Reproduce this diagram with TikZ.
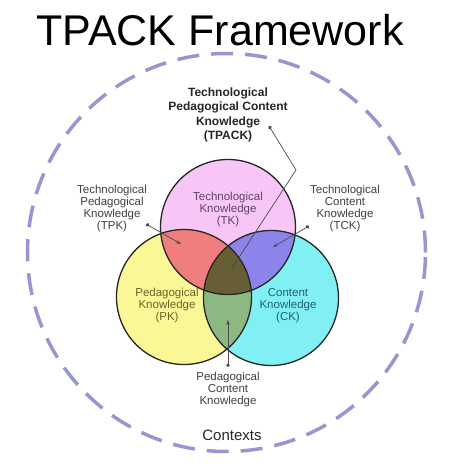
\documentclass[tikz,border=0pt]{standalone}
\usepackage{fontspec}
\setmainfont{Liberation Sans}
\usetikzlibrary{arrows.meta}
\usetikzlibrary{positioning}

\definecolor{ctxblue}{RGB}{152,150,208}
\definecolor{tkfill}{RGB}{247,198,247}
\definecolor{pkfill}{RGB}{250,248,150}
\definecolor{ckfill}{RGB}{128,240,245}
\definecolor{tpkfill}{RGB}{240,126,126}
\definecolor{tckfill}{RGB}{140,132,235}
\definecolor{pckfill}{RGB}{140,185,130}
\definecolor{tpackfill}{RGB}{104,94,54}
\definecolor{tktext}{RGB}{92,70,100}
\definecolor{pktext}{RGB}{100,100,40}
\definecolor{cktext}{RGB}{30,100,112}

\def\tkcircle{(228,227) circle (67.5pt)}
\def\pkcircle{(184,297) circle (67.5pt)}
\def\ckcircle{(271,298) circle (67.5pt)}

\begin{document}
\begin{tikzpicture}[x=1pt,y=-1pt,
		lbl/.style={align=center,inner sep=0pt,text=black!75,font=\fontsize{11.5}{12}\selectfont},
		leader/.style={draw=black!70,line width=0.7pt,{Circle[length=3.6pt]}-{Stealth[length=5pt,width=3.6pt]}},
		ring/.style={draw=black!85,line width=1.3pt}]
			\fill[white] (0,0) rectangle (450,470);
			\useasboundingbox (0,0) rectangle (450,470);
			\draw[ctxblue,line width=3.5pt,dash pattern=on 22pt off 12pt] (226.5,252.5) circle (199pt);
			\fill[pkfill] \pkcircle;
			\fill[ckfill] \ckcircle;
			\fill[tkfill] \tkcircle;
			\begin{scope}
				\clip \tkcircle;
				\fill[tpkfill] \pkcircle;
				\fill[tckfill] \ckcircle;
			\end{scope}
			\begin{scope}
				\clip \pkcircle;
				\fill[pckfill] \ckcircle;
				\clip \tkcircle;
				\fill[tpackfill] \ckcircle;
			\end{scope}
			\draw[ring] \pkcircle;
			\draw[ring] \ckcircle;
			\draw[ring] \tkcircle;
			\node[inner sep=0pt,font=\fontsize{43}{43}\selectfont] (title) at (220,30) {TPACK Framework};
			\node[lbl,text=black!85,font=\bfseries\fontsize{12}{14.5}\selectfont] (tpack) at (228,115) {Technological\\Pedagogical Content\\Knowledge\\(TPACK)};
			\node[lbl] (tpk) at (112,209) {Technological\\Pedagogical\\Knowledge\\(TPK)};
			\node[lbl] (tck) at (345,209) {Technological\\Content\\Knowledge\\(TCK)};
			\node[lbl,text=tktext] (tk) at (228,210) {Technological\\Knowledge\\(TK)};
			\node[lbl,text=pktext] (pk) at (167,306) {Pedagogical\\Knowledge\\(PK)};
			\node[lbl,text=cktext] (ck) at (288,306) {Content\\Knowledge\\(CK)};
			\node[lbl] (pck) at (228,390) {Pedagogical\\Content\\Knowledge};
			\node[inner sep=0pt,text=black!85,font=\fontsize{15}{15}\selectfont] (ctx) at (232,435) {Contexts};
			\coordinate (tpackdot) at (269,126);
			\coordinate (tpackbend) at (296,170);
			\coordinate (tpacktip) at (232,268);
			\coordinate (tpkdot) at (146,224);
			\coordinate (tpktip) at (181,244);
			\coordinate (tckdot) at (309,226);
			\coordinate (tcktip) at (273,247);
			\coordinate (pckdot) at (228,367);
			\coordinate (pcktip) at (228,320);
			\draw[leader] (tpackdot) -- (tpackbend) -- (tpacktip);
			\draw[leader] (tpkdot) -- (tpktip);
			\draw[leader] (tckdot) -- (tcktip);
			\draw[leader] (pckdot) -- (pcktip);
		\end{tikzpicture}
\end{document}
